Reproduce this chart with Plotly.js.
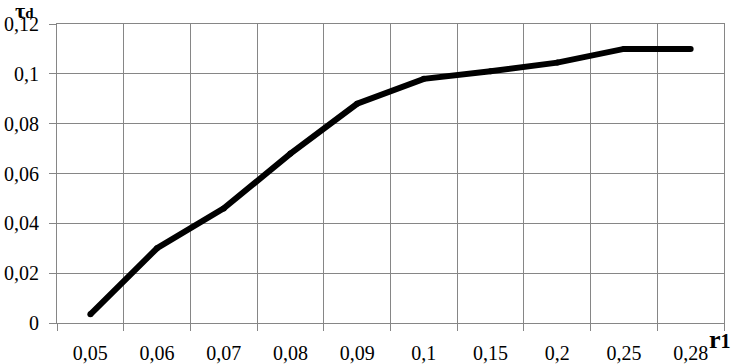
<!DOCTYPE html>
<html>
<head>
<meta charset="utf-8">
<script src="https://cdn.plot.ly/plotly-3.0.1.min.js"></script>
<style>html,body{margin:0;padding:0;background:#fff;}#chart{width:732px;height:364px;}</style>
</head>
<body>
<div id="chart"></div>
<script>
const categories = ["0,05", "0,06", "0,07", "0,08", "0,09", "0,1", "0,15", "0,2", "0,25", "0,28"];
const tauD = [0.0035, 0.030, 0.046, 0.068, 0.088, 0.098, 0.101, 0.1045, 0.110, 0.110];
const yTickVals = [0, 0.02, 0.04, 0.06, 0.08, 0.1, 0.12];
const yTickText = ["0", "0,02", "0,04", "0,06", "0,08", "0,1", "0,12"];
const xTitle = "<b>r<span style='font-size:20px'>1</span></b>";
const yTitle = "<b>τ<span style='font-size:15px'>d</span></b>";

const gridColor = "#868686";
const fontFam = "Liberation Serif";

const trace = {
  x: categories,
  y: tauD,
  type: "scatter",
  mode: "lines+markers",
  line: {color: "#000", width: 6},
  marker: {color: "#000", size: 6},
  hoverinfo: "skip"
};

const layout = {
  width: 732,
  height: 364,
  margin: {l: 57, r: 8, t: 24, b: 41},
  paper_bgcolor: "#fff",
  plot_bgcolor: "#fff",
  showlegend: false,
  font: {family: fontFam, size: 20, color: "#000"},
  xaxis: {
    type: "category",
    range: [-0.5, 9.5],
    tickson: "boundaries",
    ticks: "outside",
    ticklen: 7,
    tickcolor: gridColor,
    tickwidth: 1,
    showgrid: true,
    gridcolor: gridColor,
    gridwidth: 1,
    showline: true,
    linecolor: gridColor,
    linewidth: 1,
    mirror: true,
    ticklabelstandoff: 12,
    tickfont: {family: fontFam, size: 20, color: "#000"},
    zeroline: false
  },
  yaxis: {
    range: [0, 0.12],
    tickvals: yTickVals,
    ticktext: yTickText,
    ticks: "outside",
    ticklen: 7,
    tickcolor: gridColor,
    tickwidth: 1,
    showgrid: true,
    gridcolor: gridColor,
    gridwidth: 1,
    showline: true,
    linecolor: gridColor,
    linewidth: 1,
    mirror: true,
    ticklabelstandoff: 6,
    tickfont: {family: fontFam, size: 20, color: "#000"},
    zeroline: false
  },
  annotations: [
    {
      text: yTitle, xref: "paper", yref: "paper",
      x: -0.066, y: 1.095, xanchor: "left", yanchor: "top",
      showarrow: false, font: {family: fontFam, size: 22, color: "#000"}
    },
    {
      text: xTitle, xref: "paper", yref: "paper",
      x: 1.0135, y: 0.0, xanchor: "right", yanchor: "top",
      showarrow: false, font: {family: fontFam, size: 26, color: "#000"}
    }
  ]
};

Plotly.newPlot("chart", [trace], layout, {staticPlot: true, displayModeBar: false});
</script>
</body>
</html>
